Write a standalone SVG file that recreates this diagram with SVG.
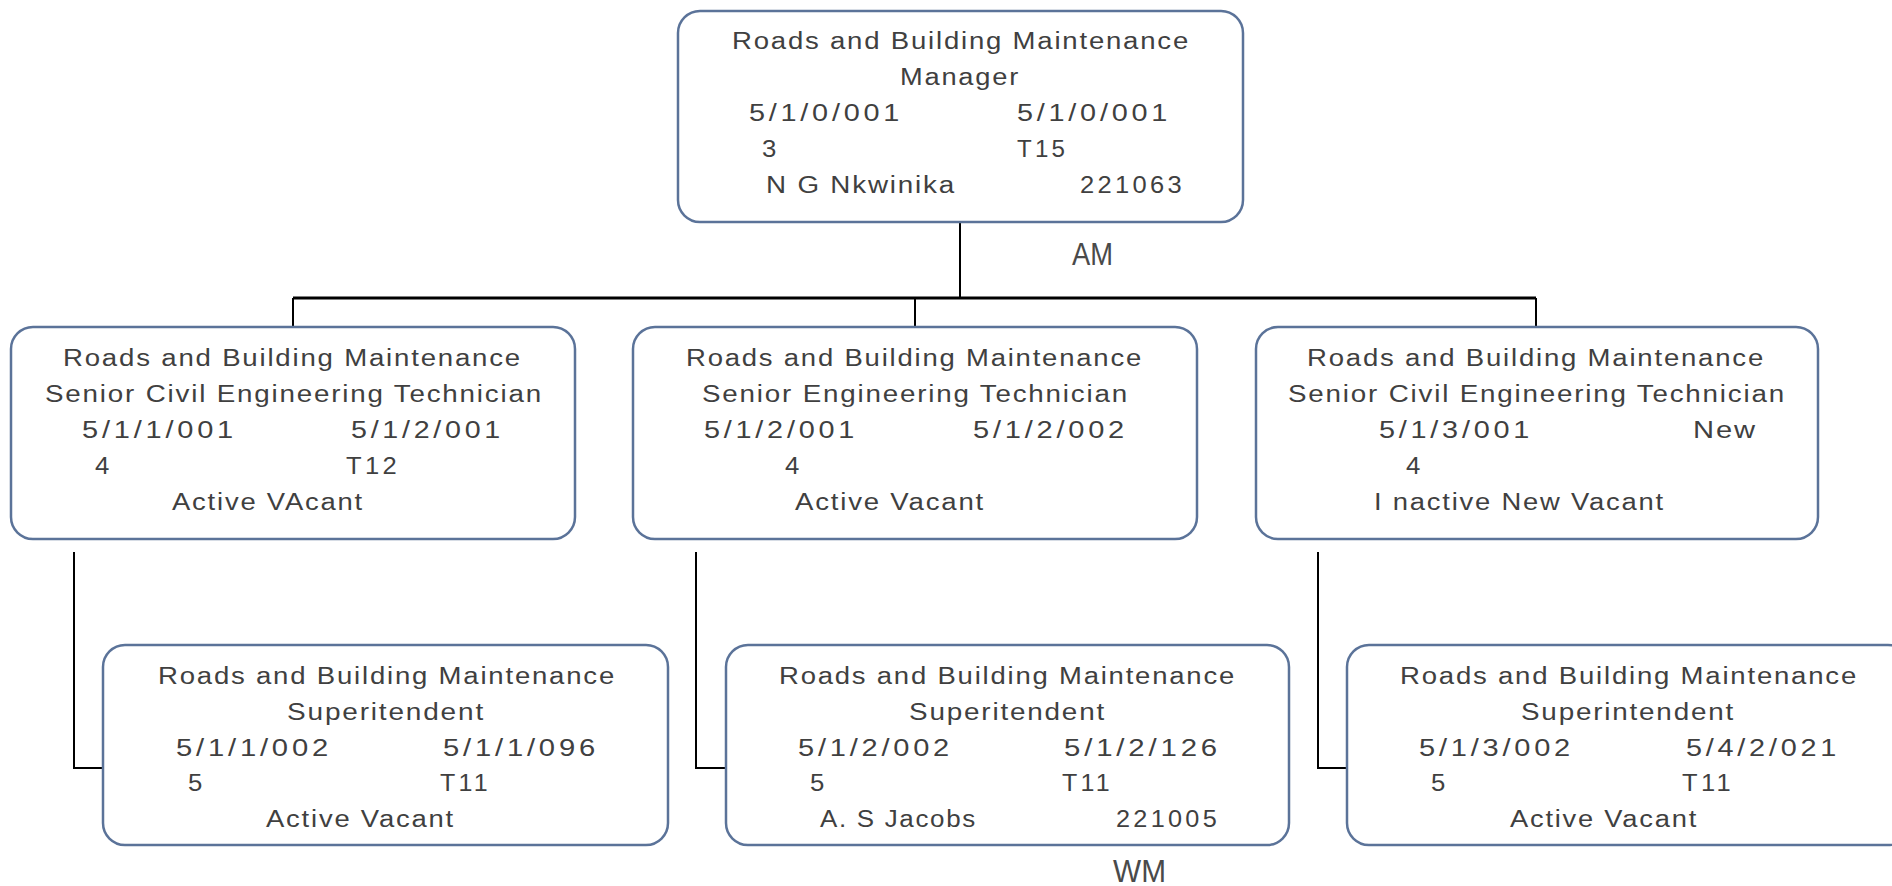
<svg xmlns="http://www.w3.org/2000/svg" width="1892" height="886" viewBox="0 0 1892 886">
<style>
.box{fill:#ffffff;stroke:#5b7399;stroke-width:2.5}
.t{font-family:"Liberation Sans",Arial,sans-serif;font-size:23px;fill:#404040;letter-spacing:1.5px}
.d{letter-spacing:3px}
.lbl{font-family:"Liberation Sans",Arial,sans-serif;font-size:32px;fill:#4a4a4a}
.ln{fill:none;stroke:#000000;stroke-width:2}
.bus{fill:none;stroke:#000000;stroke-width:3}
</style>
<rect width="1892" height="886" fill="#ffffff"/>
<g id="connectors">
<path class="ln" d="M960 222 V298"/>
<path class="bus" d="M293 298 H1536"/>
<path class="ln" d="M293 298 V327 M915 298 V327 M1536 298 V327"/>
<path class="ln" d="M74 552 V768 H103"/>
<path class="ln" d="M696 552 V768 H726"/>
<path class="ln" d="M1318 552 V768 H1347"/>
</g>
<g id="label-am"><text class="lbl" x="1072" y="265" textLength="41" lengthAdjust="spacingAndGlyphs">AM</text></g>
<g id="label-wm"><text class="lbl" x="1113" y="882" textLength="53" lengthAdjust="spacingAndGlyphs">WM</text></g>
<g id="node-manager">
<rect class="box" x="678" y="11" width="565" height="211" rx="22"/>
<text class="t" x="732" y="49" textLength="458" lengthAdjust="spacingAndGlyphs">Roads and Building Maintenance</text>
<text class="t" x="900" y="85" textLength="120" lengthAdjust="spacingAndGlyphs">Manager</text>
<text class="t d" x="749" y="121" textLength="154" lengthAdjust="spacingAndGlyphs">5/1/0/001</text>
<text class="t d" x="1017" y="121" textLength="154" lengthAdjust="spacingAndGlyphs">5/1/0/001</text>
<text class="t" x="762" y="157" textLength="16" lengthAdjust="spacingAndGlyphs">3</text>
<text class="t d" x="1017" y="157" textLength="51" lengthAdjust="spacingAndGlyphs">T15</text>
<text class="t" x="766" y="193" textLength="190" lengthAdjust="spacingAndGlyphs">N G Nkwinika</text>
<text class="t d" x="1080" y="193" textLength="105" lengthAdjust="spacingAndGlyphs">221063</text>
</g>
<g id="node-scet-1">
<rect class="box" x="11" y="327" width="564" height="212" rx="22"/>
<text class="t" x="63" y="366" textLength="459" lengthAdjust="spacingAndGlyphs">Roads and Building Maintenance</text>
<text class="t" x="45" y="402" textLength="498" lengthAdjust="spacingAndGlyphs">Senior Civil Engineering Technician</text>
<text class="t d" x="82" y="438" textLength="155" lengthAdjust="spacingAndGlyphs">5/1/1/001</text>
<text class="t d" x="351" y="438" textLength="153" lengthAdjust="spacingAndGlyphs">5/1/2/001</text>
<text class="t" x="95" y="474" textLength="16" lengthAdjust="spacingAndGlyphs">4</text>
<text class="t d" x="346" y="474" textLength="54" lengthAdjust="spacingAndGlyphs">T12</text>
<text class="t" x="172" y="510" textLength="192" lengthAdjust="spacingAndGlyphs">Active VAcant</text>
</g>
<g id="node-set">
<rect class="box" x="633" y="327" width="564" height="212" rx="22"/>
<text class="t" x="686" y="366" textLength="457" lengthAdjust="spacingAndGlyphs">Roads and Building Maintenance</text>
<text class="t" x="702" y="402" textLength="427" lengthAdjust="spacingAndGlyphs">Senior Engineering Technician</text>
<text class="t d" x="704" y="438" textLength="154" lengthAdjust="spacingAndGlyphs">5/1/2/001</text>
<text class="t d" x="973" y="438" textLength="155" lengthAdjust="spacingAndGlyphs">5/1/2/002</text>
<text class="t" x="785" y="474" textLength="16" lengthAdjust="spacingAndGlyphs">4</text>
<text class="t" x="795" y="510" textLength="190" lengthAdjust="spacingAndGlyphs">Active Vacant</text>
</g>
<g id="node-scet-3">
<rect class="box" x="1256" y="327" width="562" height="212" rx="22"/>
<text class="t" x="1307" y="366" textLength="458" lengthAdjust="spacingAndGlyphs">Roads and Building Maintenance</text>
<text class="t" x="1288" y="402" textLength="498" lengthAdjust="spacingAndGlyphs">Senior Civil Engineering Technician</text>
<text class="t d" x="1379" y="438" textLength="154" lengthAdjust="spacingAndGlyphs">5/1/3/001</text>
<text class="t" x="1693" y="438" textLength="64" lengthAdjust="spacingAndGlyphs">New</text>
<text class="t" x="1406" y="474" textLength="16" lengthAdjust="spacingAndGlyphs">4</text>
<text class="t" x="1374" y="510" textLength="291" lengthAdjust="spacingAndGlyphs">I nactive New Vacant</text>
</g>
<g id="node-super-1">
<rect class="box" x="103" y="645" width="565" height="200" rx="22"/>
<text class="t" x="158" y="684" textLength="458" lengthAdjust="spacingAndGlyphs">Roads and Building Maintenance</text>
<text class="t" x="287" y="720" textLength="198" lengthAdjust="spacingAndGlyphs">Superitendent</text>
<text class="t d" x="176" y="756" textLength="156" lengthAdjust="spacingAndGlyphs">5/1/1/002</text>
<text class="t d" x="443" y="756" textLength="156" lengthAdjust="spacingAndGlyphs">5/1/1/096</text>
<text class="t" x="188" y="791" textLength="16" lengthAdjust="spacingAndGlyphs">5</text>
<text class="t d" x="440" y="791" textLength="51" lengthAdjust="spacingAndGlyphs">T11</text>
<text class="t" x="266" y="827" textLength="189" lengthAdjust="spacingAndGlyphs">Active Vacant</text>
</g>
<g id="node-super-2">
<rect class="box" x="726" y="645" width="563" height="200" rx="22"/>
<text class="t" x="779" y="684" textLength="457" lengthAdjust="spacingAndGlyphs">Roads and Building Maintenance</text>
<text class="t" x="909" y="720" textLength="197" lengthAdjust="spacingAndGlyphs">Superitendent</text>
<text class="t d" x="798" y="756" textLength="155" lengthAdjust="spacingAndGlyphs">5/1/2/002</text>
<text class="t d" x="1064" y="756" textLength="157" lengthAdjust="spacingAndGlyphs">5/1/2/126</text>
<text class="t" x="810" y="791" textLength="16" lengthAdjust="spacingAndGlyphs">5</text>
<text class="t d" x="1062" y="791" textLength="51" lengthAdjust="spacingAndGlyphs">T11</text>
<text class="t" x="820" y="827" textLength="157" lengthAdjust="spacingAndGlyphs">A. S Jacobs</text>
<text class="t d" x="1116" y="827" textLength="104" lengthAdjust="spacingAndGlyphs">221005</text>
</g>
<g id="node-super-3">
<rect class="box" x="1347" y="645" width="563" height="200" rx="22"/>
<text class="t" x="1400" y="684" textLength="458" lengthAdjust="spacingAndGlyphs">Roads and Building Maintenance</text>
<text class="t" x="1521" y="720" textLength="214" lengthAdjust="spacingAndGlyphs">Superintendent</text>
<text class="t d" x="1419" y="756" textLength="155" lengthAdjust="spacingAndGlyphs">5/1/3/002</text>
<text class="t d" x="1686" y="756" textLength="154" lengthAdjust="spacingAndGlyphs">5/4/2/021</text>
<text class="t" x="1431" y="791" textLength="16" lengthAdjust="spacingAndGlyphs">5</text>
<text class="t d" x="1682" y="791" textLength="52" lengthAdjust="spacingAndGlyphs">T11</text>
<text class="t" x="1510" y="827" textLength="188" lengthAdjust="spacingAndGlyphs">Active Vacant</text>
</g>
</svg>
